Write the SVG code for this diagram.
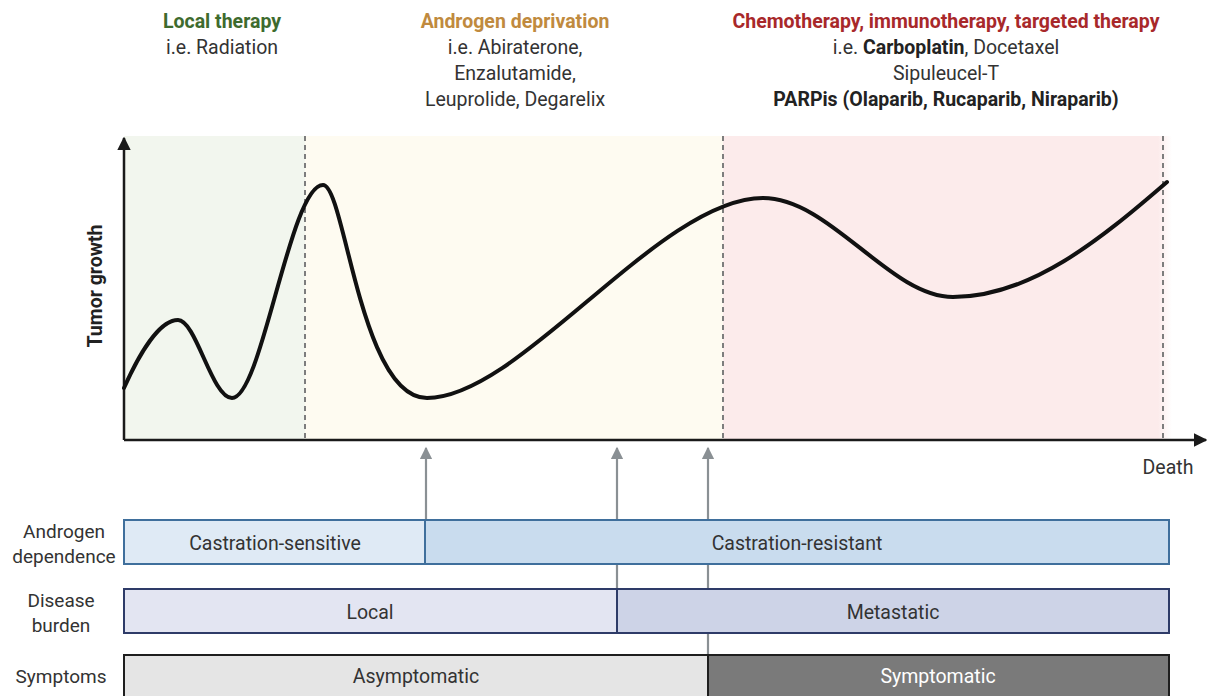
<svg xmlns="http://www.w3.org/2000/svg" width="1207" height="696" viewBox="0 0 1207 696">
<defs>
<style>
text{font-family:Roboto,"Liberation Sans",sans-serif;font-size:19.5px;fill:#333;text-anchor:middle}
.b{font-weight:bold}
.lab{font-size:19px}
.dash{stroke:#7d7d7d;stroke-width:2;stroke-dasharray:5,4;fill:none}
.ax{stroke:#1a1a1a;stroke-width:2.5;fill:none}
.garr{stroke:#8a9094;stroke-width:2.2;fill:none}
</style>
<marker id="ah" viewBox="0 0 10 10" refX="9" refY="5" markerWidth="5.5" markerHeight="5.5" orient="auto" markerUnits="strokeWidth">
<path d="M0,0 L10,5 L0,10 z" fill="#1a1a1a"/>
</marker>
<marker id="gh" viewBox="0 0 10 10" refX="9" refY="5" markerWidth="6" markerHeight="5.5" orient="auto" markerUnits="strokeWidth">
<path d="M0,0 L10,5 L0,10 z" fill="#8a9094"/>
</marker>
<linearGradient id="fade" x1="0" x2="1" y1="0" y2="0">
<stop offset="0" stop-color="#fcebeb"/>
<stop offset="1" stop-color="#fcebeb" stop-opacity="0"/>
</linearGradient>
</defs>

<g id="backgrounds">
<rect x="124" y="136" width="181" height="304" fill="#f2f6ee"/>
<rect x="305" y="136" width="418" height="304" fill="#fefbf1"/>
<rect x="723" y="136" width="435" height="304" fill="#fcebeb"/>
<rect x="1158" y="136" width="14" height="304" fill="url(#fade)"/>
</g>

<g id="titles">
<text x="222" y="28" class="b" style="fill:#3e6b2e">Local therapy</text>
<text x="222" y="54">i.e. Radiation</text>
<text x="515" y="28" class="b" style="fill:#c08a3e">Androgen deprivation</text>
<text x="515" y="54">i.e. Abiraterone,</text>
<text x="515" y="80">Enzalutamide,</text>
<text x="515" y="106">Leuprolide, Degarelix</text>
<text x="946" y="28" class="b" style="fill:#a8282a">Chemotherapy, immunotherapy, targeted therapy</text>
<text x="946" y="54">i.e. <tspan class="b" style="fill:#222">Carboplatin</tspan>, Docetaxel</text>
<text x="946" y="80">Sipuleucel-T</text>
<text x="946" y="106" class="b" style="fill:#222">PARPis (Olaparib, Rucaparib, Niraparib)</text>
</g>

<g id="dividers">
<line class="dash" x1="305" y1="136" x2="305" y2="440"/>
<line class="dash" x1="723" y1="136" x2="723" y2="440"/>
<line class="dash" x1="1163" y1="136" x2="1163" y2="440"/>
</g>

<g id="axes">
<line class="ax" x1="124" y1="440" x2="124" y2="138" marker-end="url(#ah)"/>
<line class="ax" x1="124" y1="440" x2="1206" y2="440" marker-end="url(#ah)"/>
<text class="b" x="0" y="0" transform="translate(102,286) rotate(-90)" style="font-size:19.5px;fill:#222">Tumor growth</text>
<text x="1168" y="474">Death</text>
</g>

<g id="curve">
<path d="M124,388 C140,352 160,320 178,320 C196,320 212,398 232,398 C262,398 290,185 323,185 C345,185 360,398 427,398 C520,398 660,198 763,198 C830,198 890,297 953,297 C1030,297 1100,240 1167,182" fill="none" stroke="#111" stroke-width="4" stroke-linecap="round"/>
</g>

<g id="connectors">
<line class="garr" x1="426" y1="520" x2="426" y2="448" marker-end="url(#gh)"/>
<line class="garr" x1="617" y1="589" x2="617" y2="448" marker-end="url(#gh)"/>
<line class="garr" x1="708" y1="654" x2="708" y2="448" marker-end="url(#gh)"/>
</g>

<g id="androgen">
<text x="64" y="538" class="lab">Androgen</text>
<text x="64" y="563" class="lab">dependence</text>
<rect x="124" y="520" width="301" height="44" fill="#dfeaf5" stroke="#3f6f9c" stroke-width="2"/>
<rect x="425" y="520" width="744" height="44" fill="#c9dcee" stroke="#3f6f9c" stroke-width="2"/>
<text x="275" y="550">Castration-sensitive</text>
<text x="797" y="550">Castration-resistant</text>
</g>

<g id="burden">
<text x="61" y="607" class="lab">Disease</text>
<text x="61" y="632" class="lab">burden</text>
<rect x="124" y="589" width="493" height="44" fill="#e3e5f2" stroke="#2e3b68" stroke-width="2"/>
<rect x="617" y="589" width="552" height="44" fill="#cdd3e7" stroke="#2e3b68" stroke-width="2"/>
<text x="370" y="619">Local</text>
<text x="893" y="619">Metastatic</text>
</g>

<g id="symptoms">
<text x="61" y="683" class="lab">Symptoms</text>
<rect x="124" y="655" width="584" height="45" fill="#e5e5e5" stroke="#1e1e1e" stroke-width="2"/>
<rect x="708" y="655" width="461" height="45" fill="#7a7a7a" stroke="#1e1e1e" stroke-width="2"/>
<text x="416" y="683">Asymptomatic</text>
<text x="938" y="683" style="fill:#fff">Symptomatic</text>
</g>
</svg>
